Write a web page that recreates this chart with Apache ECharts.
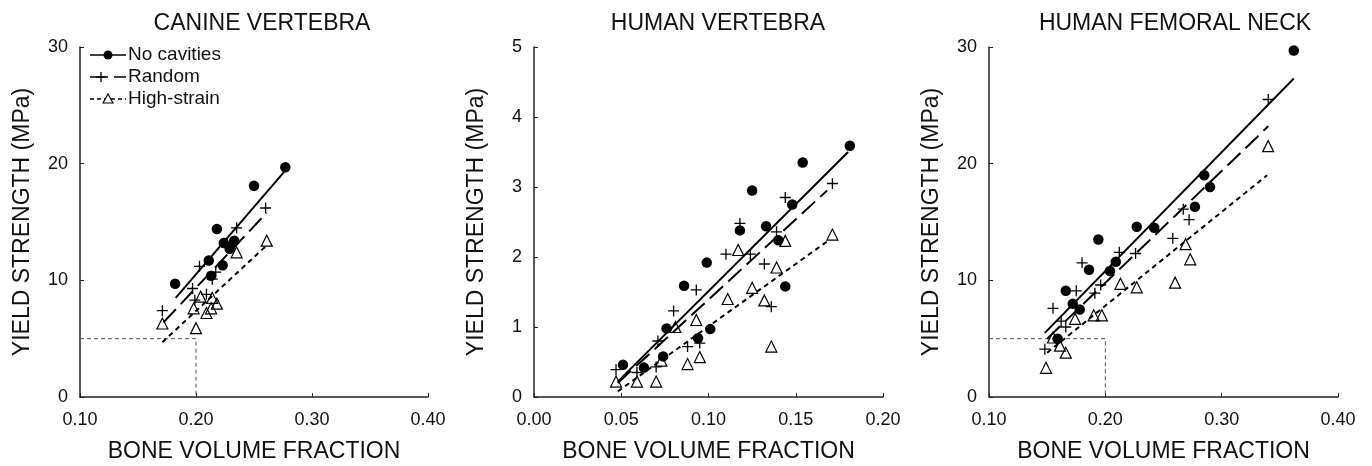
<!DOCTYPE html>
<html>
<head>
<meta charset="utf-8">
<script src="https://cdn.jsdelivr.net/npm/echarts@6/dist/echarts.min.js"></script>
<style>
	body{ margin:0; background:#fff; }
	#chart{ width:1372px; height:466px; }
</style>
</head>
<body>
<div id="chart"></div>
<script>
	// ---- data ----
	var panelTitles = ['CANINE VERTEBRA', 'HUMAN VERTEBRA', 'HUMAN FEMORAL NECK'];
	var legendNames = ['No cavities', 'Random', 'High-strain'];

	// canine vertebra
	var noCav1 = [[0.182,9.7],[0.211,11.7],[0.218,14.4],[0.213,10.4],[0.223,11.3],[0.224,13.2],[0.229,12.7],[0.233,13.4],[0.250,18.1],[0.277,19.7]];
	var random1 = [[0.171,7.4],[0.197,9.3],[0.199,8.3],[0.203,11.2],[0.209,8.8],[0.214,10.1],[0.217,10.7],[0.229,13.0],[0.235,14.5],[0.260,16.2]];
	var high1 = [[0.171,6.3],[0.198,7.6],[0.200,5.9],[0.204,8.6],[0.209,7.2],[0.213,7.6],[0.214,8.5],[0.218,8.0],[0.235,12.4],[0.261,13.4]];
	var fitNoCav1 = [[0.1825,8.5],[0.276,19.3]];
	var fitRandom1 = [[0.172,6.4],[0.261,15.8]];
	var fitHigh1 = [[0.171,4.7],[0.261,13.0]];

	// human vertebra
	var noCav2 = [[0.051,0.46],[0.063,0.42],[0.074,0.58],[0.076,0.98],[0.086,1.59],[0.094,0.84],[0.099,1.92],[0.101,0.97],[0.118,2.38],[0.125,2.95],[0.133,2.44],[0.140,2.24],[0.144,1.58],[0.148,2.75],[0.154,3.35],[0.181,3.59]];
	var random2 = [[0.047,0.39],[0.059,0.35],[0.070,0.43],[0.071,0.80],[0.080,1.23],[0.088,0.72],[0.095,0.77],[0.093,1.53],[0.110,2.04],[0.118,2.48],[0.124,2.04],[0.132,1.90],[0.139,2.36],[0.136,1.29],[0.144,2.85],[0.171,3.05]];
	var high2 = [[0.047,0.22],[0.059,0.22],[0.070,0.22],[0.073,0.52],[0.081,1.00],[0.088,0.47],[0.095,0.57],[0.093,1.10],[0.111,1.40],[0.117,2.10],[0.125,1.56],[0.132,1.38],[0.136,0.72],[0.139,1.85],[0.144,2.23],[0.171,2.32]];
	var fitNoCav2 = [[0.048,0.22],[0.180,3.50]];
	var fitRandom2 = [[0.048,0.20],[0.168,2.95]];
	var fitHigh2 = [[0.048,0.08],[0.169,2.24]];

	// human femoral neck
	var noCav3 = [[0.159,5.0],[0.166,9.1],[0.172,8.0],[0.178,7.5],[0.186,10.9],[0.194,13.5],[0.204,10.8],[0.209,11.6],[0.227,14.6],[0.242,14.5],[0.277,16.3],[0.285,19.0],[0.290,18.0],[0.362,29.7]];
	var random3 = [[0.148,4.1],[0.155,7.6],[0.162,6.5],[0.166,6.0],[0.175,9.1],[0.180,11.5],[0.191,8.9],[0.196,9.6],[0.212,12.4],[0.226,12.3],[0.258,13.6],[0.267,16.1],[0.272,15.2],[0.340,25.5]];
	var high3 = [[0.149,2.5],[0.155,5.1],[0.161,4.4],[0.166,3.8],[0.174,6.7],[0.190,7.0],[0.197,7.0],[0.213,9.7],[0.227,9.4],[0.260,9.8],[0.269,13.1],[0.273,11.8],[0.340,21.5]];
	var fitNoCav3 = [[0.148,5.5],[0.362,27.3]];
	var fitRandom3 = [[0.150,5.0],[0.340,23.2]];
	var fitHigh3 = [[0.150,3.8],[0.339,19.0]];

	// dotted guide at 5 MPa / 0.20
	var guide = [[0.10,5],[0.20,5],[0.20,0]];

	var xTicks = [[0.10,0.40,0.10],[0.00,0.20,0.05],[0.10,0.40,0.10]];
	var yTicks = [[0,30,10],[0,5,1],[0,30,10]];

	var FONT = '"Liberation Sans", Arial, sans-serif';
	var plusPath = 'path://M0,5L10,5M5,0L5,10';
	var trianglePath = 'path://M5,0L10,9L0,9Z';

	var grids = [
		{left:80, top:47, width:348, height:350, outerBoundsMode:'none'},
		{left:534, top:47, width:349, height:350, outerBoundsMode:'none'},
		{left:989, top:47, width:349, height:350, outerBoundsMode:'none'}
	];
	var titleCenters = [257, 713, 1170];

	var chart = echarts.init(document.getElementById('chart'));

	var xAxes = [], yAxes = [], titles = [], series = [];
	var allSets = [
		[noCav1, random1, high1, fitNoCav1, fitRandom1, fitHigh1],
		[noCav2, random2, high2, fitNoCav2, fitRandom2, fitHigh2],
		[noCav3, random3, high3, fitNoCav3, fitRandom3, fitHigh3]
	];

	for(var i = 0; i < 3; i++){
		titles.push({
			text: panelTitles[i],
			left: titleCenters[i],
			top: 7,
			textAlign: 'center',
			textStyle: {fontFamily: FONT, fontSize: 23, fontWeight: 'normal', color: '#111'}
		});
		xAxes.push({
			type: 'value', gridIndex: i,
			min: xTicks[i][0], max: xTicks[i][1], interval: xTicks[i][2],
			name: 'BONE VOLUME FRACTION', nameLocation: 'middle', nameGap: 43,
			nameTextStyle: {fontFamily: FONT, fontSize: 23, color: '#111'},
			axisLine: {lineStyle: {color: '#222', width: 1.5}},
			axisTick: {inside: true, length: 4, lineStyle: {color: '#222'}},
			axisLabel: {fontFamily: FONT, fontSize: 18, color: '#111', margin: 14,
				formatter: function(v){ return v.toFixed(2); }},
			splitLine: {show: false}
		});
		yAxes.push({
			type: 'value', gridIndex: i,
			min: yTicks[i][0], max: yTicks[i][1], interval: yTicks[i][2],
			name: 'YIELD STRENGTH (MPa)', nameLocation: 'middle', nameGap: 46,
			nameTextStyle: {fontFamily: FONT, fontSize: 23, color: '#111'},
			axisLine: {show: true, lineStyle: {color: '#222', width: 1.5}},
			axisTick: {show: true, inside: true, length: 4, lineStyle: {color: '#222'}},
			axisLabel: {fontFamily: FONT, fontSize: 18, color: '#111', margin: 12},
			splitLine: {show: false}
		});

		var sets = allSets[i];
		// guide lines (panels 1 and 3)
		if(i != 1){
			series.push({
				type: 'line', xAxisIndex: i, yAxisIndex: i, data: guide, symbol: 'none',
				lineStyle: {color: '#555', width: 1, type: [4, 3]}, silent: true, z: 1
			});
		}
		// regression lines
		series.push({type:'line', xAxisIndex:i, yAxisIndex:i, data:sets[3], symbol:'none',
			lineStyle:{color:'#000', width:2, type:'solid'}, z:2});
		series.push({type:'line', xAxisIndex:i, yAxisIndex:i, data:sets[4], symbol:'none',
			lineStyle:{color:'#000', width:2, type:[18, 7]}, z:2});
		series.push({type:'line', xAxisIndex:i, yAxisIndex:i, data:sets[5], symbol:'none',
			lineStyle:{color:'#000', width:2, type:[5, 4]}, z:2});
		// points
		series.push({type:'scatter', xAxisIndex:i, yAxisIndex:i, data:sets[0], symbol:'circle', symbolSize:10.5,
			itemStyle:{color:'#000', opacity:1}, z:3});
		series.push({type:'scatter', xAxisIndex:i, yAxisIndex:i, data:sets[1], symbol:plusPath, symbolSize:11,
			itemStyle:{color:'transparent', borderColor:'#000', borderWidth:1.3, opacity:1}, z:3});
		series.push({type:'scatter', xAxisIndex:i, yAxisIndex:i, data:sets[2], symbol:trianglePath, symbolSize:11,
			itemStyle:{color:'transparent', borderColor:'#000', borderWidth:1.2, opacity:1}, z:3});
	}

	// legend drawn by hand (line + marker + label)
	var legendRows = [55, 77, 99];
	var legendDash = [null, [18, 6], [4, 3]];
	var graphics = [];
	for(var k = 0; k < 3; k++){
		var yy = legendRows[k];
		graphics.push({type:'line', shape:{x1:90, y1:yy, x2:126, y2:yy},
			style:{stroke:'#000', lineWidth:1.6, lineDash:legendDash[k]}});
		if(k == 0){
			graphics.push({type:'circle', shape:{cx:108, cy:yy, r:4.5}, style:{fill:'#000'}});
		}else if(k == 1){
			graphics.push({type:'line', shape:{x1:96, y1:yy, x2:106, y2:yy}, style:{stroke:'#000', lineWidth:1.3}});
			graphics.push({type:'line', shape:{x1:101, y1:yy-5, x2:101, y2:yy+5}, style:{stroke:'#000', lineWidth:1.3}});
		}else{
			graphics.push({type:'polygon', shape:{points:[[108,yy-5],[113,yy+4],[103,yy+4]]},
				style:{fill:'#fff', stroke:'#000', lineWidth:1.1}});
		}
		graphics.push({type:'text', x:128, y:yy, style:{text:legendNames[k], font:'19px ' + FONT,
			fill:'#111', verticalAlign:'middle', align:'left'}});
	}

	chart.setOption({
		animation: false,
		backgroundColor: '#fff',
		title: titles,
		grid: grids,
		xAxis: xAxes,
		yAxis: yAxes,
		series: series,
		graphic: graphics
	});
</script>
</body>
</html>
